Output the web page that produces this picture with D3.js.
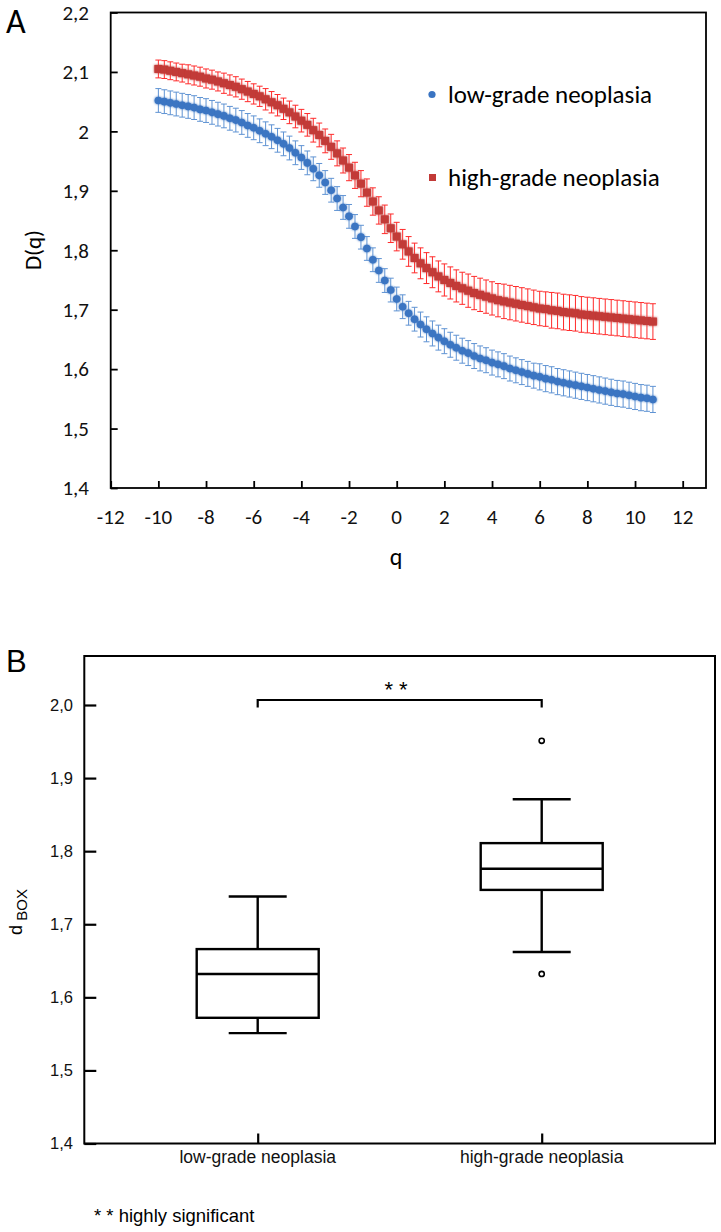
<!DOCTYPE html>
<html><head><meta charset="utf-8">
<script src="https://cdn.jsdelivr.net/npm/d3@7"></script>
<style>body{margin:0;background:#fff}svg{display:block}</style>
</head><body>
<svg id="c" width="721" height="1232"></svg>
<script>
// ---------- Panel A data ----------
const qValues = [-10,-9.75,-9.5,-9.25,-9,-8.75,-8.5,-8.25,-8,-7.75,-7.5,-7.25,-7,-6.75,-6.5,-6.25,-6,-5.75,-5.5,-5.25,-5,-4.75,-4.5,-4.25,-4,-3.75,-3.5,-3.25,-3,-2.75,-2.5,-2.25,-2,-1.75,-1.5,-1.25,-1,-0.75,-0.5,-0.25,0,0.25,0.5,0.75,1,1.25,1.5,1.75,2,2.25,2.5,2.75,3,3.25,3.5,3.75,4,4.25,4.5,4.75,5,5.25,5.5,5.75,6,6.25,6.5,6.75,7,7.25,7.5,7.75,8,8.25,8.5,8.75,9,9.25,9.5,9.75,10,10.25,10.5,10.75];
const lowGrade = [2.052,2.050,2.048,2.046,2.044,2.042,2.040,2.037,2.035,2.032,2.029,2.026,2.022,2.019,2.015,2.010,2.006,2.001,1.996,1.991,1.985,1.979,1.972,1.964,1.956,1.947,1.937,1.926,1.914,1.901,1.887,1.872,1.857,1.840,1.822,1.803,1.784,1.766,1.749,1.733,1.718,1.705,1.694,1.684,1.675,1.667,1.660,1.653,1.647,1.641,1.636,1.631,1.627,1.622,1.618,1.615,1.611,1.608,1.605,1.601,1.598,1.595,1.592,1.589,1.587,1.584,1.582,1.579,1.577,1.575,1.573,1.571,1.569,1.567,1.565,1.563,1.561,1.559,1.558,1.556,1.554,1.552,1.551,1.549];
const lowGradeErr = [0.020,0.020,0.020,0.020,0.020,0.020,0.020,0.020,0.020,0.020,0.020,0.020,0.020,0.020,0.020,0.020,0.020,0.020,0.020,0.020,0.020,0.020,0.020,0.020,0.020,0.020,0.020,0.020,0.020,0.020,0.020,0.020,0.020,0.020,0.020,0.020,0.020,0.020,0.020,0.020,0.020,0.020,0.020,0.020,0.021,0.021,0.021,0.021,0.021,0.021,0.021,0.021,0.021,0.021,0.021,0.021,0.021,0.021,0.021,0.021,0.021,0.021,0.021,0.021,0.022,0.022,0.022,0.022,0.022,0.022,0.022,0.022,0.022,0.022,0.022,0.022,0.022,0.022,0.022,0.022,0.022,0.022,0.022,0.022];
const highGrade = [2.105,2.104,2.102,2.100,2.098,2.096,2.094,2.092,2.089,2.087,2.084,2.081,2.078,2.075,2.071,2.067,2.063,2.059,2.054,2.049,2.044,2.038,2.032,2.025,2.018,2.011,2.002,1.994,1.984,1.974,1.963,1.951,1.939,1.926,1.912,1.897,1.882,1.867,1.852,1.837,1.823,1.810,1.798,1.787,1.778,1.770,1.763,1.756,1.750,1.745,1.740,1.736,1.732,1.728,1.725,1.722,1.719,1.716,1.714,1.712,1.710,1.708,1.706,1.704,1.702,1.701,1.699,1.698,1.696,1.695,1.694,1.692,1.691,1.690,1.689,1.688,1.687,1.686,1.685,1.684,1.683,1.682,1.681,1.680];
const highGradeErr = [0.015,0.015,0.015,0.015,0.015,0.016,0.016,0.016,0.016,0.016,0.016,0.017,0.017,0.017,0.017,0.017,0.017,0.017,0.018,0.018,0.018,0.018,0.019,0.019,0.019,0.019,0.020,0.020,0.020,0.021,0.021,0.021,0.022,0.022,0.022,0.023,0.023,0.023,0.024,0.024,0.024,0.025,0.025,0.025,0.026,0.026,0.026,0.026,0.027,0.027,0.027,0.027,0.028,0.028,0.028,0.028,0.028,0.028,0.029,0.029,0.029,0.029,0.029,0.029,0.029,0.029,0.030,0.030,0.030,0.030,0.030,0.030,0.030,0.030,0.030,0.030,0.030,0.030,0.030,0.030,0.030,0.030,0.030,0.030];
const seriesNames = ["low-grade neoplasia","high-grade neoplasia"];
const xTicksA = [-12,-10,-8,-6,-4,-2,0,2,4,6,8,10,12];
const yTicksA = [1.4,1.5,1.6,1.7,1.8,1.9,2.0,2.1,2.2];
const yTickLabelsA = ["1,4","1,5","1,6","1,7","1,8","1,9","2","2,1","2,2"];

// ---------- Panel B data ----------
const groups = ["low-grade neoplasia","high-grade neoplasia"];
const whiskerLow = [1.551,1.662];
const q1 = [1.572,1.747];
const medians = [1.632,1.776];
const q3 = [1.666,1.811];
const whiskerHigh = [1.738,1.871];
const outliers = [[],[1.951,1.632]];
const yTicksB = [1.4,1.5,1.6,1.7,1.8,1.9,2.0];
const yTickLabelsB = ["1,4","1,5","1,6","1,7","1,8","1,9","2,0"];

const svg = d3.select("#c");
const fontA = "Carlito, Lato, 'Open Sans', sans-serif";
const fontB = "'Liberation Sans', Arial, sans-serif";

const defs = svg.append("defs");
const f = defs.append("filter").attr("id","glow").attr("x","-50%").attr("y","-50%").attr("width","200%").attr("height","200%");
f.append("feGaussianBlur").attr("in","SourceGraphic").attr("stdDeviation",0.9).attr("result","b");
const fm = f.append("feMerge");
fm.append("feMergeNode").attr("in","b");
fm.append("feMergeNode").attr("in","SourceGraphic");

// ================= Panel A =================
const A = {left:110.7, right:706, top:12.5, bottom:488};
const xA = d3.scaleLinear().domain([-12,12]).range([110.7,682.7]);
const yA = d3.scaleLinear().domain([1.4,2.2]).range([488,12.5]);
const gA = svg.append("g");

gA.append("text").attr("x",6).attr("y",33).attr("font-family",fontA).attr("font-size",34).text("A");

gA.append("rect").attr("x",A.left).attr("y",A.top).attr("width",A.right-A.left).attr("height",A.bottom-A.top)
  .attr("fill","none").attr("stroke","#000").attr("stroke-width",1.8);

const yAxisA = d3.axisRight(yA).tickValues(yTicksA).tickSize(7).tickFormat("");
gA.append("g").attr("transform",`translate(${A.left},0)`).call(yAxisA)
  .call(g=>{g.select(".domain").remove(); g.selectAll("line").attr("stroke-width",1.8);});
gA.selectAll(".ylabA").data(yTicksA).enter().append("text")
  .attr("x",89).attr("y",d=>yA(d)).attr("dy","0.35em").attr("text-anchor","end")
  .attr("font-family",fontA).attr("font-size",21).attr("fill","#111")
  .text((d,i)=>yTickLabelsA[i]);

const xAxisA = d3.axisTop(xA).tickValues(xTicksA).tickSize(7).tickFormat("");
gA.append("g").attr("transform",`translate(0,${A.bottom})`).call(xAxisA)
  .call(g=>{g.select(".domain").remove(); g.selectAll("line").attr("stroke-width",1.8);});
gA.selectAll(".xlabA").data(xTicksA).enter().append("text")
  .attr("x",d=>xA(d)).attr("y",517).attr("dy","0.35em").attr("text-anchor","middle")
  .attr("font-family",fontA).attr("font-size",21).attr("fill","#111")
  .text(d=>String(d));

gA.append("text").attr("x",396).attr("y",557).attr("dy","0.35em").attr("text-anchor","middle")
  .attr("font-family",fontA).attr("font-size",24).text("q");
gA.append("text").attr("transform","translate(33,250) rotate(-90)").attr("dy","0.35em").attr("text-anchor","middle")
  .attr("font-family",fontA).attr("font-size",23).text("D(q)");

function errBars(vals, errs, color){
  const g = gA.append("g").attr("stroke",color).attr("stroke-width",1).attr("fill","none");
  qValues.forEach((q,i)=>{
    const x = xA(q), y1 = yA(vals[i]-errs[i]), y2 = yA(vals[i]+errs[i]);
    g.append("line").attr("x1",x).attr("x2",x).attr("y1",y1).attr("y2",y2);
    g.append("line").attr("x1",x-3).attr("x2",x+3).attr("y1",y1).attr("y2",y1);
    g.append("line").attr("x1",x-3).attr("x2",x+3).attr("y1",y2).attr("y2",y2);
  });
}
errBars(lowGrade, lowGradeErr, "#5f93d3");
errBars(highGrade, highGradeErr, "#ff2a2a");

gA.append("g").attr("filter","url(#glow)").selectAll("circle").data(qValues).enter().append("circle")
  .attr("cx",d=>xA(d)).attr("cy",(d,i)=>yA(lowGrade[i])).attr("r",3.8).attr("fill","#3a74c2");
gA.append("g").attr("filter","url(#glow)").selectAll("rect").data(qValues).enter().append("rect")
  .attr("x",d=>xA(d)-4).attr("y",(d,i)=>yA(highGrade[i])-4).attr("width",8).attr("height",8).attr("fill","#c23a37");

gA.append("circle").attr("cx",432).attr("cy",94.5).attr("r",3.6).attr("fill","#3a74c2");
gA.append("rect").attr("x",429).attr("y",174).attr("width",7).attr("height",7).attr("fill","#c23a37");
gA.append("text").attr("x",448).attr("y",94.5).attr("dy","0.35em").attr("font-family",fontA).attr("font-size",25).text(seriesNames[0]);
gA.append("text").attr("x",448).attr("y",177.5).attr("dy","0.35em").attr("font-family",fontA).attr("font-size",25).text(seriesNames[1]);

// ================= Panel B =================
const B = {left:84.3, right:715, top:656, bottom:1143.5};
const yB = d3.scaleLinear().domain([1.4,2.0]).range([1143.5,705]);
const xB = d3.scalePoint().domain(groups).range([257.7,541.7]);
const gB = svg.append("g");

gB.append("text").attr("x",6).attr("y",672).attr("font-family",fontB).attr("font-size",31).text("B");

gB.append("rect").attr("x",B.left).attr("y",B.top).attr("width",B.right-B.left).attr("height",B.bottom-B.top)
  .attr("fill","none").attr("stroke","#000").attr("stroke-width",2);

const yAxisB = d3.axisRight(yB).tickValues(yTicksB).tickSize(12).tickFormat("");
gB.append("g").attr("transform",`translate(${B.left},0)`).call(yAxisB)
  .call(g=>{g.select(".domain").remove(); g.selectAll("line").attr("stroke-width",2.2);});
gB.selectAll(".ylabB").data(yTicksB).enter().append("text")
  .attr("x",73).attr("y",d=>yB(d)).attr("dy","0.35em").attr("text-anchor","end")
  .attr("font-family",fontB).attr("font-size",16.5).attr("fill","#111")
  .text((d,i)=>yTickLabelsB[i]);

const xAxisB = d3.axisTop(xB).tickSize(10).tickFormat("");
gB.append("g").attr("transform",`translate(0,${B.bottom})`).call(xAxisB)
  .call(g=>{g.select(".domain").remove(); g.selectAll("line").attr("stroke-width",2.2);});
gB.selectAll(".xlabB").data(groups).enter().append("text")
  .attr("x",d=>xB(d)).attr("y",1157).attr("dy","0.35em").attr("text-anchor","middle")
  .attr("font-family",fontB).attr("font-size",17.5).attr("fill","#111").text(d=>d);

const yl = gB.append("text").attr("transform","translate(22,912) rotate(-90)").attr("text-anchor","middle")
  .attr("font-family",fontB).attr("font-size",18);
yl.append("tspan").text("d");
yl.append("tspan").attr("font-size",15).attr("dy",5).text(" BOX");

const halfW = 61, capW = 29;
groups.forEach((gname,i)=>{
  const cx = xB(gname);
  const g = gB.append("g").attr("stroke","#000").attr("stroke-width",2.4).attr("fill","none");
  g.append("line").attr("x1",cx).attr("x2",cx).attr("y1",yB(whiskerHigh[i])).attr("y2",yB(q3[i]));
  g.append("line").attr("x1",cx).attr("x2",cx).attr("y1",yB(q1[i])).attr("y2",yB(whiskerLow[i]));
  g.append("line").attr("x1",cx-capW).attr("x2",cx+capW).attr("y1",yB(whiskerHigh[i])).attr("y2",yB(whiskerHigh[i]));
  g.append("line").attr("x1",cx-capW).attr("x2",cx+capW).attr("y1",yB(whiskerLow[i])).attr("y2",yB(whiskerLow[i]));
  g.append("rect").attr("x",cx-halfW).attr("y",yB(q3[i])).attr("width",2*halfW).attr("height",yB(q1[i])-yB(q3[i]));
  g.append("line").attr("x1",cx-halfW).attr("x2",cx+halfW).attr("y1",yB(medians[i])).attr("y2",yB(medians[i]));
  outliers[i].forEach(o=>{
    gB.append("circle").attr("cx",cx).attr("cy",yB(o)).attr("r",2.6).attr("fill","#fff").attr("stroke","#000").attr("stroke-width",1.6);
  });
});

const bY = 700;
const x0 = xB(groups[0]), x1 = xB(groups[1]);
gB.append("path").attr("d",`M${x0},${bY+7.5}V${bY}H${x1}V${bY+7.5}`).attr("fill","none").attr("stroke","#000").attr("stroke-width",2.2);
gB.append("text").attr("x",396).attr("y",689).attr("dy","0.35em").attr("text-anchor","middle")
  .attr("font-family",fontB).attr("font-size",22).text("* *");

gB.append("text").attr("x",94).attr("y",1216).attr("dy","0.35em")
  .attr("font-family",fontB).attr("font-size",18.5).text("* * highly significant");
</script>
</body></html>
